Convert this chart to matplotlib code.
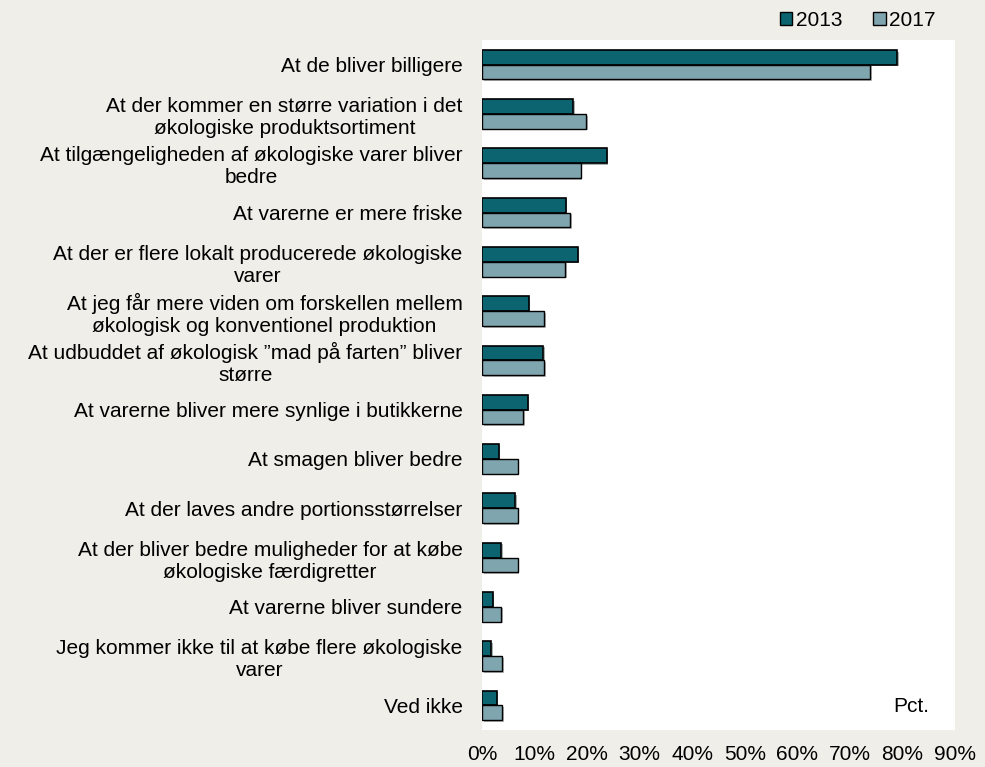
import matplotlib.pyplot as plt
import matplotlib.patheffects as pe
from matplotlib.patches import Patch
import numpy as np

plt.rcParams['font.family'] = ['Liberation Sans', 'DejaVu Sans']

categories = [
    "At de bliver billigere",
    "At der kommer en større variation i det\nøkologiske produktsortiment",
    "At tilgængeligheden af økologiske varer bliver\nbedre",
    "At varerne er mere friske",
    "At der er flere lokalt producerede økologiske\nvarer",
    "At jeg får mere viden om forskellen mellem\nøkologisk og konventionel produktion",
    "At udbuddet af økologisk \u201dmad på farten\u201d bliver\nstørre",
    "At varerne bliver mere synlige i butikkerne",
    "At smagen bliver bedre",
    "At der laves andre portionsstørrelser",
    "At der bliver bedre muligheder for at købe\nøkologiske færdigretter",
    "At varerne bliver sundere",
    "Jeg kommer ikke til at købe flere økologiske\nvarer",
    "Ved ikke",
]
v2013 = [79, 17.4, 23.7, 15.9, 18.2, 8.9, 11.7, 8.7, 3.2, 6.3, 3.6, 2.0, 1.8, 2.8]
v2017 = [73.8, 19.8, 18.8, 16.8, 15.8, 11.8, 11.8, 7.8, 6.8, 6.8, 6.8, 3.7, 3.8, 3.8]
xticks = [0, 10, 20, 30, 40, 50, 60, 70, 80, 90]

c2013 = '#0b6470'
c2017 = '#7fa5ae'
bg = '#efeee8'

fig = plt.figure(figsize=(9.85, 7.67), dpi=100, facecolor=bg)
ax = fig.add_axes([482 / 985, 1 - 730 / 767, (955 - 482) / 985, (730 - 40) / 767])
ax.set_facecolor('white')

y = np.arange(len(categories))
h = 0.3
shadow = [pe.SimplePatchShadow(offset=(1.2, -1.2), alpha=0.35), pe.Normal()]
b1 = ax.barh(y - h / 2, v2013, height=h, color=c2013, edgecolor='black', linewidth=1.2)
b2 = ax.barh(y + h / 2, v2017, height=h, color=c2017, edgecolor='black', linewidth=1.0)
for b in list(b1) + list(b2):
    b.set_path_effects(shadow)

ax.set_xlim(0, 90)
ax.set_ylim(len(categories) - 0.5, -0.5)
ax.set_yticks(y)
ax.set_yticklabels(categories, fontsize=15, ha='right', multialignment='center')
ax.set_xticks(xticks)
ax.set_xticklabels([f"{t}%" for t in xticks], fontsize=15)
ax.tick_params(axis='y', length=0, pad=14)
ax.tick_params(axis='x', length=0, pad=11)
for s in ax.spines.values():
    s.set_visible(False)

ax.text(0.945, 0.02, 'Pct.', transform=ax.transAxes, ha='right', va='bottom', fontsize=15)

handles = [Patch(facecolor=c2013, edgecolor='black', label='2013'),
           Patch(facecolor=c2017, edgecolor='black', label='2017')]
fig.legend(handles=handles, loc='upper right', bbox_to_anchor=(950 / 985, 1.005), ncol=2,
           frameon=False, fontsize=15, handlelength=0.6, handleheight=0.6,
           handletextpad=0.15, columnspacing=1.5, borderaxespad=0.3)

fig.savefig('out.png', dpi=100, facecolor=bg)
